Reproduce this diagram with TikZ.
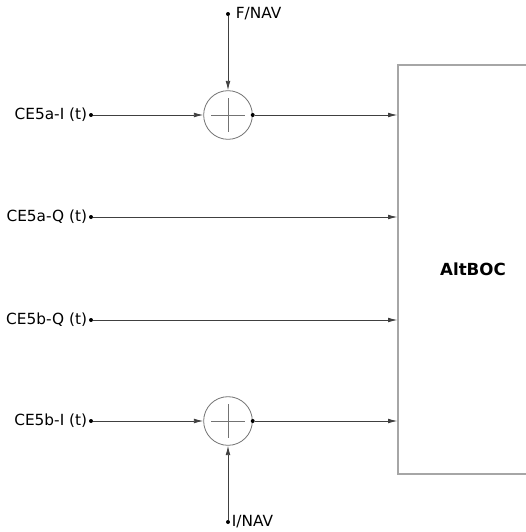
\documentclass[tikz,border=0pt]{standalone}
\usepackage{fontspec}
\setmainfont{DejaVu Sans}
\usetikzlibrary{arrows.meta, positioning, calc}

\begin{document}
\begin{tikzpicture}[
    x=0.75pt, y=-0.75pt,
    font=\fontsize{11.5}{14}\selectfont,
    >={Latex[length=7pt, width=3.5pt]},
    sig/.style={draw=black!75, line width=0.6pt},
    arrow/.style={sig, ->},
    dot/.style={circle, fill=black, inner sep=0pt, minimum size=3pt},
    adder/.style={circle, draw=black!55, line width=0.6pt, minimum size=36.5pt, inner sep=0pt},
    cross/.style={draw=black!55, line width=0.6pt},
    block/.style={draw=black!35, line width=0.9pt, minimum width=112.5pt, minimum height=306.75pt, font=\bfseries\fontsize{12.5}{14}\selectfont},
    inlabel/.style={inner sep=1pt}
]
\useasboundingbox (0,0) rectangle (525,532);

% 1. AltBOC block (Right)
\node[block] (AltBOC) at (473,269.5) {AltBOC};

% 2. Inputs (Left)
\node[dot] (CEaI) at (91,115) {};
\node[dot] (CEaQ) at (91,217) {};
\node[dot] (CEbQ) at (91,320) {};
\node[dot] (CEbI) at (91,421) {};
\node[inlabel, left=0pt of CEaI] {CE5a-I (t)};
\node[inlabel, left=0pt of CEaQ] {CE5a-Q (t)};
\node[inlabel, left=0pt of CEbQ] {CE5b-Q (t)};
\node[inlabel, left=0pt of CEbI] {CE5b-I (t)};

% 3. Adders and navigation messages
\node[adder] (SumA) at (228,115) {};
\node[adder] (SumB) at (228,421) {};
\foreach \s in {SumA, SumB} {
    \draw[cross] ([xshift=-12.5pt]\s.center) -- ([xshift=12.5pt]\s.center);
    \draw[cross] ([yshift=-12.5pt]\s.center) -- ([yshift=12.5pt]\s.center);
}
\node[dot] (OutA) at (SumA.east) {};
\node[dot] (OutB) at (SumB.east) {};

\node[dot] (FNAV) at (228,14) {};
\node[inlabel, right=3pt of FNAV] {F/NAV};
\node[dot] (INAV) at (228,522) {};
\node[inlabel, right=0pt of INAV] {I/NAV};

% Arrows
\draw[arrow] (CEaI) -- (SumA.west);
\draw[arrow] (CEbI) -- (SumB.west);
\draw[arrow] (FNAV) -- (SumA.north);
\draw[arrow] (INAV) -- (SumB.south);

\draw[arrow] (OutA) -- (OutA -| AltBOC.west);
\draw[arrow] (CEaQ) -- (CEaQ -| AltBOC.west);
\draw[arrow] (CEbQ) -- (CEbQ -| AltBOC.west);
\draw[arrow] (OutB) -- (OutB -| AltBOC.west);

\end{tikzpicture}
\end{document}
